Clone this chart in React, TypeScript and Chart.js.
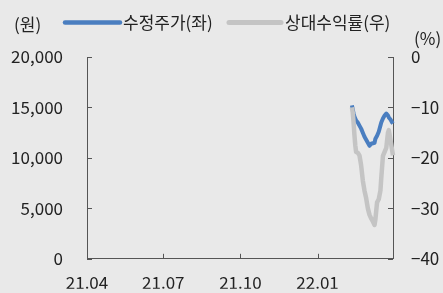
import React, { useEffect, useRef } from "react";
import { Chart, registerables } from "chart.js";

Chart.register(...registerables);

// Day offsets from 2021-04-01
const tradeDays = [316, 317, 318, 319, 320, 321, 323, 325, 327, 329, 331, 333, 335, 337, 339, 341, 343, 344, 346, 348, 350, 351, 353, 355, 357, 359, 360, 362, 364, 365];
const adjPrice = [15200, 14800, 14400, 14100, 13900, 13700, 13500, 13200, 12900, 12500, 12100, 11800, 11500, 11200, 11400, 11450, 11500, 11900, 12200, 12600, 13200, 13500, 13900, 14200, 14400, 14200, 14000, 13800, 13500, 13400];
const relReturn = [-10.0, -11.0, -13.0, -15.5, -17.5, -18.8, -19.0, -19.5, -21.5, -24.5, -26.5, -28.0, -30.0, -31.3, -32.0, -32.6, -33.3, -32.2, -28.8, -28.2, -26.5, -24.0, -19.6, -18.8, -18.0, -15.0, -14.5, -16.5, -18.5, -19.5];

const xTickDays = [0, 91, 183, 275];
const xTickLabels = ["21.04", "21.07", "21.10", "22.01"];
const seriesNames = ["수정주가(좌)", "상대수익률(우)"];
const leftUnit = "(원)";
const rightUnit = "(%)";

const FONT = "'Noto Sans CJK KR', 'Noto Sans', sans-serif";
const FS = 17;
const BG = "#e9e9e9";
const BLUE = "#4a7ec0";
const GRAY = "#c4c4c4";
const AXIS = "#555555";
const TEXT = "#222222";

const decorPlugin = {
  id: "decor",
  afterDraw(chart: any) {
    const ctx = chart.ctx;
    const { x, y, y1 } = chart.scales;
    ctx.save();
    ctx.strokeStyle = AXIS;
    ctx.lineWidth = 1;
    y.ticks.forEach((_t: any, i: number) => {
      const py = Math.round(y.getPixelForTick(i)) + 0.5;
      ctx.beginPath();
      ctx.moveTo(chart.chartArea.left, py);
      ctx.lineTo(chart.chartArea.left + 5, py);
      ctx.stroke();
    });
    y1.ticks.forEach((_t: any, i: number) => {
      const py = Math.round(y1.getPixelForTick(i)) + 0.5;
      ctx.beginPath();
      ctx.moveTo(chart.chartArea.right, py);
      ctx.lineTo(chart.chartArea.right - 5, py);
      ctx.stroke();
    });
    x.ticks.forEach((_t: any, i: number) => {
      if (i === 0) return;
      const px = Math.round(x.getPixelForTick(i)) + 0.5;
      ctx.beginPath();
      ctx.moveTo(px, chart.chartArea.bottom);
      ctx.lineTo(px, chart.chartArea.bottom - 5);
      ctx.stroke();
    });

    ctx.font = `${FS}px ${FONT}`;
    ctx.fillStyle = TEXT;
    ctx.textBaseline = "middle";
    ctx.textAlign = "left";
    ctx.fillText(leftUnit, 14, 25);
    ctx.fillText(rightUnit, 414, 39);

    const items = [
      { color: BLUE, x0: 65, x1: 120, tx: 123, w: 4.5 },
      { color: GRAY, x0: 229, x1: 281, tx: 285, w: 5 },
    ];
    items.forEach((it, i) => {
      ctx.strokeStyle = it.color;
      ctx.lineWidth = it.w;
      ctx.lineCap = "round";
      ctx.beginPath();
      ctx.moveTo(it.x0, 22.5);
      ctx.lineTo(it.x1, 22.5);
      ctx.stroke();
      ctx.fillStyle = TEXT;
      ctx.fillText(chart.data.datasets[i].label, it.tx, 23);
    });
    ctx.restore();
  },
};

export default function App() {
  const ref = useRef<HTMLCanvasElement>(null);
  useEffect(() => {
    if (!ref.current) return;
    const chart = new Chart(ref.current, {
      type: "line",
      data: {
        datasets: [
          {
            label: seriesNames[0],
            data: tradeDays.map((d, i) => ({ x: d, y: adjPrice[i] })),
            borderColor: BLUE,
            backgroundColor: BLUE,
            borderWidth: 4,
            pointRadius: 0,
            yAxisID: "y",
            order: 2,
            clip: false as any,
            borderJoinStyle: "round",
          },
          {
            label: seriesNames[1],
            data: tradeDays.map((d, i) => ({ x: d, y: relReturn[i] })),
            borderColor: GRAY,
            backgroundColor: GRAY,
            borderWidth: 4.5,
            pointRadius: 0,
            yAxisID: "y1",
            order: 1,
            clip: false as any,
            borderJoinStyle: "round",
          },
        ],
      },
      options: {
        responsive: false,
        animation: false,
        devicePixelRatio: 1,
        layout: { padding: { top: 57, left: 0, right: 0, bottom: 0 } },
        plugins: { legend: { display: false }, tooltip: { enabled: false } },
        scales: {
          x: {
            type: "linear",
            min: 0,
            max: 365,
            grid: { display: false, drawTicks: false },
            border: { display: true, color: AXIS, width: 1 },
            afterBuildTicks: (s: any) => {
              s.ticks = xTickDays.map((v) => ({ value: v }));
            },
            afterFit: (s: any) => {
              s.height = 30;
            },
            ticks: {
              autoSkip: false,
              maxRotation: 0,
              padding: 14,
              color: TEXT,
              font: { family: FONT, size: FS },
              callback: (_v: any, i: number) => xTickLabels[i],
            },
          },
          y: {
            position: "left",
            min: 0,
            max: 20000,
            grid: { display: false, drawTicks: false },
            border: { display: true, color: AXIS, width: 1 },
            afterFit: (s: any) => {
              s.width = 87;
            },
            ticks: {
              stepSize: 5000,
              padding: 24,
              color: TEXT,
              font: { family: FONT, size: FS },
              callback: (v: any) => Number(v).toLocaleString("en-US"),
            },
          },
          y1: {
            position: "right",
            min: -40,
            max: 0,
            grid: { display: false, drawTicks: false },
            border: { display: true, color: AXIS, width: 1 },
            afterFit: (s: any) => {
              s.width = 50;
            },
            ticks: {
              stepSize: 10,
              padding: 18,
              color: TEXT,
              font: { family: FONT, size: FS },
              callback: (v: any) => (Number(v) < 0 ? "\u2212" + Math.abs(Number(v)) : String(v)),
            },
          },
        },
      },
      plugins: [decorPlugin],
    });
    return () => chart.destroy();
  }, []);
  return (
    <div style={{ position: "fixed", left: 0, top: 0, width: 443, height: 293, background: BG }}>
      <canvas ref={ref} width={443} height={293} style={{ display: "block" }} />
    </div>
  );
}
